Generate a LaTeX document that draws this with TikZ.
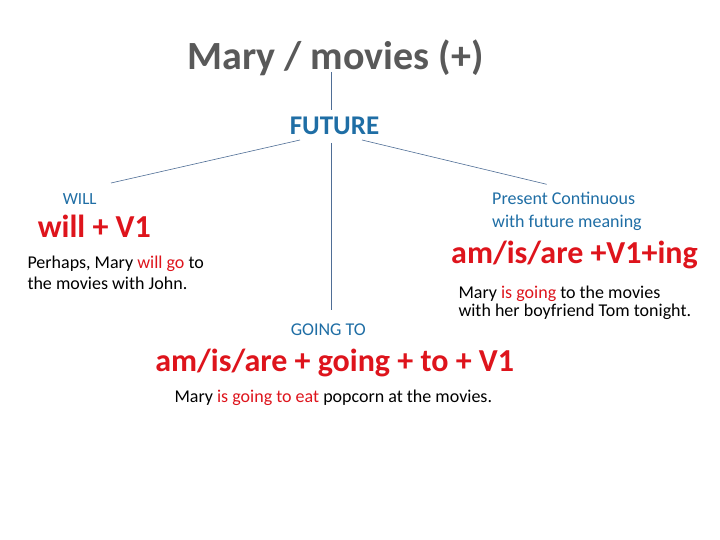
\documentclass[tikz,border=0pt]{standalone}
\usepackage{fontspec}
\setmainfont{Carlito}
\usepackage{xcolor}
\definecolor{headblue}{RGB}{31,110,165}
\definecolor{formred}{RGB}{222,20,28}
\definecolor{titlegray}{RGB}{89,89,89}
\definecolor{linkblue}{RGB}{79,110,150}

\begin{document}
\begin{tikzpicture}[x=1pt,y=-1pt,
    every node/.style={inner sep=0pt},
    head/.style={text=headblue, font=\fontsize{18}{22.3}\selectfont},
    form/.style={text=formred, font=\fontsize{32}{38}\selectfont\bfseries},
    example/.style={text=black, align=left, font=\fontsize{18}{21}\selectfont},
    link/.style={draw=linkblue, line width=0.6pt}]
    \useasboundingbox[fill=white] (0,0) rectangle (720,540);

    \node[anchor=base, text=titlegray, font=\fontsize{40}{48}\selectfont\bfseries]
      (title) at (335.5,70) {Mary / movies (+)};
    \node[anchor=base, text=headblue, font=\fontsize{27}{32}\selectfont\bfseries]
      (future) at (334.5,135) {FUTURE};

    % left branch
    \node[head, anchor=base, font=\fontsize{17}{20}\selectfont] (will) at (79.7,204.3) {WILL};
    \node[form, anchor=base] (willform) at (94.3,237.3) {will + V1};
    \node[example, anchor=base west] (willex) at (27.3,289.3)
      {Perhaps, Mary \textcolor{formred}{will go} to\\the movies with John.};

    % right branch
    \node[head, anchor=base west, align=left] (pres) at (492,227.3)
      {Present Continuous\\with future meaning};
    \node[form, anchor=base] (presform) at (574.5,263.3) {am/is/are +V1+ing};
    \node[example, anchor=base west, font=\fontsize{18}{18.4}\selectfont] (presex) at (458.3,316.7)
      {Mary \textcolor{formred}{is going} to the movies\\with her boyfriend Tom tonight.};

    % middle branch
    \node[head, anchor=base] (going) at (328.3,335) {GOING TO};
    \node[form, anchor=base] (goingform) at (334.7,371.7) {am/is/are + going + to + V1};
    \node[example, anchor=base] (goingex) at (333.3,402.7)
      {Mary \textcolor{formred}{is going to eat} popcorn at the movies.};

    \draw[link] ([shift={(-4.5,2)}]title.base) -- ([shift={(-3.5,-25)}]future.base);
    \draw[link] ([shift={(-34.5,5)}]future.base) -- ([shift={(31.3,-21.3)}]will.base);
    \draw[link] ([shift={(27.5,5)}]future.base) -- ([shift={(54.7,-43)}]pres.base west);
    \draw[link] ([shift={(-3.5,8)}]future.base) -- ([shift={(-3.5,-25)}]future.base |- going.base);
\end{tikzpicture}
\end{document}
